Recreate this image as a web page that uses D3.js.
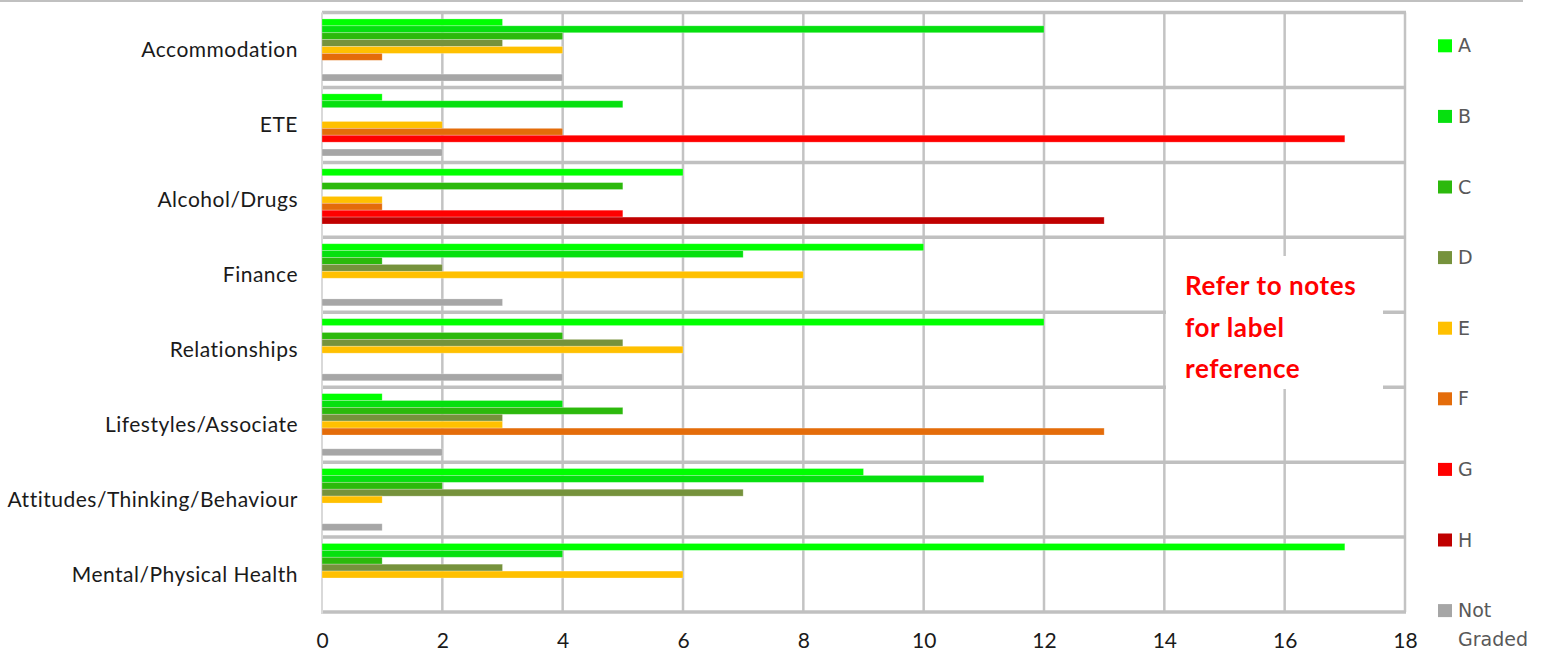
<!DOCTYPE html>
<html>
<head>
<meta charset="utf-8">
<script src="https://cdn.jsdelivr.net/npm/d3@7"></script>
<style>
  html, body { margin: 0; padding: 0; background: #fff; }
  svg { display: block; }
</style>
</head>
<body>
<svg id="chart" width="1544" height="653"></svg>
<script>
// Categories, top to bottom
const categories = [
  "Accommodation", "ETE", "Alcohol/Drugs", "Finance", "Relationships",
  "Lifestyles/Associate", "Attitudes/Thinking/Behaviour", "Mental/Physical Health"
];

// Series names and counts per category (same order as categories)
const seriesNames = ["A", "B", "C", "D", "E", "F", "G", "H", "Not Graded"];
const seriesA  = [3, 1, 6, 10, 12, 1, 9, 17];
const seriesB  = [12, 5, 0, 7, 0, 4, 11, 4];
const seriesC  = [4, 0, 5, 1, 4, 5, 2, 1];
const seriesD  = [3, 0, 0, 2, 5, 3, 7, 3];
const seriesE  = [4, 2, 1, 8, 6, 3, 1, 6];
const seriesF  = [1, 4, 1, 0, 0, 13, 0, 0];
const seriesG  = [0, 17, 5, 0, 0, 0, 0, 0];
const seriesH  = [0, 0, 13, 0, 0, 0, 0, 0];
const seriesNG = [4, 2, 0, 3, 4, 2, 1, 0];
const seriesValues = [seriesA, seriesB, seriesC, seriesD, seriesE, seriesF, seriesG, seriesH, seriesNG];

const seriesColors = ["#00ff00", "#06e00f", "#2cb90c", "#76923c", "#ffc000", "#e46c0a", "#ff0000", "#c00000", "#a6a6a6"];

const xTicks = [0, 2, 4, 6, 8, 10, 12, 14, 16, 18];
const noteLines = ["Refer to notes", "for label", "reference"];

const svg = d3.select("#chart");
const plot = { left: 322, right: 1405, top: 12.5, bottom: 612 };

const x = d3.scaleLinear().domain([0, 18]).range([plot.left, plot.right]);
const y = d3.scaleBand().domain(categories).range([plot.top, plot.bottom]).padding(0);
const ySeries = d3.scaleBand().domain(seriesNames).range([0, y.bandwidth()])
  .paddingInner(0).paddingOuter(0.93);

// Rule across the top of the chart
svg.append("line")
  .attr("x1", 0).attr("x2", 1523).attr("y1", 1).attr("y2", 1)
  .attr("stroke", "#c0c0c0").attr("stroke-width", 2);

// Vertical gridlines
const grid = svg.append("g");
grid.selectAll("line.v").data(xTicks.slice(1)).join("line")
  .attr("class", "v")
  .attr("x1", d => x(d)).attr("x2", d => x(d))
  .attr("y1", plot.top).attr("y2", plot.bottom)
  .attr("stroke", "#c3c3c3").attr("stroke-width", 2.5);

// Category separators
const seps = d3.range(categories.length + 1).map(i => plot.top + i * y.step());
grid.selectAll("line.h").data(seps).join("line")
  .attr("class", "h")
  .attr("x1", plot.left).attr("x2", plot.right + 1)
  .attr("y1", d => d).attr("y2", d => d)
  .attr("stroke", "#c0c0c0").attr("stroke-width", 3.5);

// Value axis line
grid.append("line")
  .attr("x1", plot.left).attr("x2", plot.left)
  .attr("y1", plot.top).attr("y2", plot.bottom + 2)
  .attr("stroke", "#d9d9d9").attr("stroke-width", 2);

// Bars
const barData = [];
categories.forEach((c, ci) => {
  seriesNames.forEach((s, si) => {
    barData.push({ cat: c, series: s, value: seriesValues[si][ci], color: seriesColors[si] });
  });
});
svg.append("g").selectAll("rect").data(barData.filter(d => d.value > 0)).join("rect")
  .attr("x", x(0))
  .attr("y", d => y(d.cat) + ySeries(d.series))
  .attr("width", d => x(d.value) - x(0))
  .attr("height", ySeries.bandwidth())
  .attr("fill", d => d.color)
  .attr("stroke", "#ffffff").attr("stroke-opacity", 0.3).attr("stroke-width", 0.8);

// Category labels
svg.append("g").selectAll("text").data(categories).join("text")
  .attr("x", 298)
  .attr("y", d => y(d) + y.bandwidth() / 2)
  .attr("dy", "0.35em")
  .attr("text-anchor", "end")
  .attr("font-family", "Lato, sans-serif")
  .attr("font-size", 21)
  .attr("letter-spacing", 0.5)
  .attr("fill", "#1a1a1a")
  .text(d => d);

// Value axis tick labels
const xAxis = d3.axisBottom(x).tickValues(xTicks).tickSize(0).tickPadding(0);
const xg = svg.append("g").attr("transform", `translate(0, 648)`).call(xAxis);
xg.select(".domain").remove();
xg.selectAll("text")
  .attr("y", 0).attr("dy", 0)
  .attr("font-family", "Lato, sans-serif")
  .attr("font-size", 21)
  .attr("fill", "#1a1a1a");

// Note box
const note = svg.append("g");
note.append("rect")
  .attr("x", 1166).attr("y", 256).attr("width", 217).attr("height", 133)
  .attr("fill", "#ffffff");
note.selectAll("text").data(noteLines).join("text")
  .attr("x", 1185)
  .attr("y", (d, i) => 295 + i * 41.5)
  .attr("font-family", "Lato, sans-serif")
  .attr("font-weight", "bold")
  .attr("font-size", 26)
  .attr("letter-spacing", 0.6)
  .attr("fill", "#ff0000")
  .text(d => d);

// Legend
const legend = svg.append("g");
const legendStep = 70.6;
const items = legend.selectAll("g").data(seriesNames).join("g")
  .attr("transform", (d, i) => `translate(1438, ${52.3 + i * legendStep})`);
items.append("rect")
  .attr("x", 0).attr("y", -13).attr("width", 14).attr("height", 13)
  .attr("fill", (d, i) => seriesColors[i]);
items.append("text")
  .attr("x", 20).attr("y", 0)
  .attr("font-family", "DejaVu Sans, sans-serif")
  .attr("font-size", 19)
  .attr("fill", "#595959")
  .each(function(d) {
    const words = d.split(" ");
    const t = d3.select(this);
    words.forEach((w, k) => {
      t.append("tspan").attr("x", 20).attr("dy", k === 0 ? 0 : 29).text(w);
    });
  });
</script>
</body>
</html>
